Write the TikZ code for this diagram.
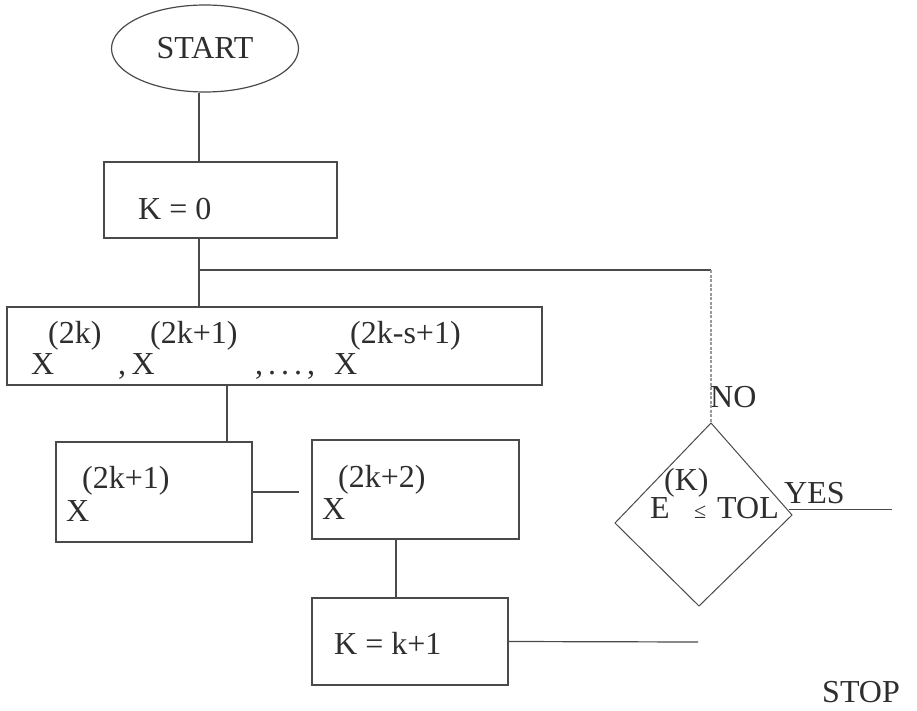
\documentclass[tikz,border=0pt]{standalone}
\usepackage{fontspec}
\setmainfont{Liberation Serif}
\usetikzlibrary{shapes.geometric,calc}
\definecolor{ink}{HTML}{2E2E2E}
\definecolor{linec}{HTML}{4A4A4A}
\begin{document}
\begin{tikzpicture}[x=1pt,y=-1pt,
  boxs/.style={draw=linec,line width=1.2pt,rectangle,inner sep=0pt},
  txt/.style={text=ink,inner sep=0pt,font=\fontsize{32}{38}\selectfont},
  small/.style={text=ink,inner sep=0pt,font=\fontsize{22}{26}\selectfont},
  conn/.style={draw=linec,line width=1.2pt},
  dotconn/.style={draw=gray!80,line width=1.2pt,dash pattern=on 3pt off 1.5pt}]
\useasboundingbox[fill=white] (0,0) rectangle (917,711);

% START
\node[draw=linec,line width=1.2pt,ellipse,minimum width=187pt,minimum height=87pt,inner sep=0pt,txt] (start) at (205,48.5) {START};

% K = 0
\node[boxs,minimum width=233pt,minimum height=76pt] (k0) at (220.5,200) {};
\node[txt,anchor=base west] (k0t) at (138,219) {K = 0};

% big box
\node[boxs,minimum width=535pt,minimum height=78pt] (big) at (274.5,346) {};
\node[txt,anchor=base west] (bx1) at (31,374) {X};
\node[txt,anchor=base west] (bs1) at (48,343) {(2k)};
\node[txt,anchor=base west] (bx2) at (118,374) {,\,X};
\node[txt,anchor=base west] (bs2) at (150,343) {(2k+1)};
\node[txt,anchor=base west] (bd) at (255,374) {,\hspace{5pt}.\hspace{5pt}.\hspace{5pt}.\hspace{5pt},};
\node[txt,anchor=base west] (bx3) at (334,374) {X};
\node[txt,anchor=base west] (bs3) at (350,343) {(2k-s+1)};

% box 1
\node[boxs,minimum width=196pt,minimum height=100pt] (b1) at (154,492) {};
\node[txt,anchor=base west] (b1x) at (66,521) {X};
\node[txt,anchor=base west] (b1s) at (82,488) {(2k+1)};

% box 2
\node[boxs,minimum width=207pt,minimum height=99pt] (b2) at (415.5,489.5) {};
\node[txt,anchor=base west] (b2x) at (322,519) {X};
\node[txt,anchor=base west] (b2s) at (338,487) {(2k+2)};

% box 3
\node[boxs,minimum width=196pt,minimum height=87pt] (b3) at (410,641.5) {};
\node[txt,anchor=base west] (b3t) at (334,654) {K = k+1};

% diamond
\coordinate (dt) at (711,423);
\coordinate (dr) at (792,515);
\coordinate (db) at (699,606);
\coordinate (dl) at (615,523);
\draw[conn,line width=1pt] (dt) -- (dr) -- (db) -- (dl) -- cycle;
\node[txt,anchor=base west] (de) at (650,518) {E};
\node[txt,anchor=base west] (dk) at (664,490) {(K)};
\node[small,anchor=base west] (dle) at (694,518) {≤};
\node[txt,anchor=base west] (dtol) at (717,518) {TOL};

% labels
\node[txt,anchor=base west] (no) at (710,407) {NO};
\node[txt,anchor=base west] (yes) at (784,503) {YES};
\node[txt,anchor=base west] (stop) at (822,702) {STOP};

% junction coordinates
\coordinate (j1) at (199,270);
\coordinate (j2) at (711,270);
\coordinate (c2) at (227,400);
\coordinate (g1) at (299,492);
\coordinate (c3) at (396,560);
\coordinate (e3) at (698,642);
\coordinate (ys) at (789,509);
\coordinate (ye) at (892,509);

% connectors
\draw[conn] (start.south -| j1) -- (k0.north -| j1);
\draw[conn] (k0.south -| j1) -- (big.north -| j1);
\draw[conn] (j1) -- (j2);
\draw[dotconn] (j2) -- (dt);
\draw[conn] (big.south -| c2) -- (b1.north -| c2);
\draw[conn] (b1.east) -- (g1);
\draw[conn] (b2.south -| c3) -- (b3.north -| c3);
\draw[conn] (b3.east) -- (e3);
\draw[conn,line width=1pt] (ys) -- (ye);
\end{tikzpicture}
\end{document}
